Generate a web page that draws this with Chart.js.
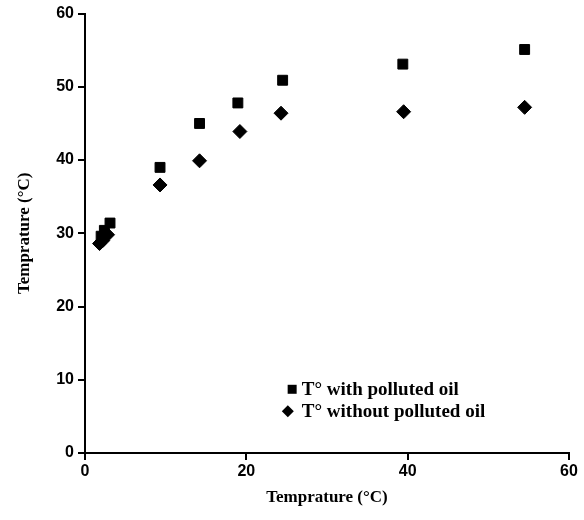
<!DOCTYPE html>
<html>
<head>
<meta charset="utf-8">
<script src="https://cdn.jsdelivr.net/npm/chart.js@4/dist/chart.umd.min.js"></script>
<style>
  html, body { margin: 0; padding: 0; background: #ffffff; }
  #wrap { width: 584px; height: 520px; position: relative; }
</style>
</head>
<body>
<div id="wrap"><canvas id="c"></canvas></div>
<script>
// ---- data ----
const seriesNames = ['T\u00b0 with polluted oil', 'T\u00b0 without polluted oil'];
const withX    = [2.0, 2.4, 3.1, 9.3, 14.2, 18.95, 24.5, 39.4, 54.5];
const withY    = [29.6, 30.4, 31.4, 39.0, 45.0, 47.8, 50.9, 53.1, 55.1];
const withoutX = [1.8, 2.2, 2.8, 9.3, 14.2, 19.2, 24.3, 39.5, 54.5];
const withoutY = [28.6, 29.0, 29.8, 36.6, 39.9, 43.9, 46.4, 46.6, 47.2];
const axisTitle = 'Temprature (\u00b0C)';
const xTicks = [0, 20, 40, 60];
const yTicks = [0, 10, 20, 30, 40, 50, 60];

const toPts = (xs, ys) => xs.map((x, i) => ({ x: x, y: ys[i] }));

const legendPlugin = {
  id: 'insideLegend',
  afterDatasetsDraw(chart) {
    const { ctx, chartArea } = chart;
    const w = chartArea.right - chartArea.left;
    const h = chartArea.bottom - chartArea.top;
    const items = [
      { text: seriesNames[0], style: 'rect', mx: 0.428, my: 0.855, tx: 0.448 },
      { text: seriesNames[1], style: 'diamond', mx: 0.419, my: 0.905, tx: 0.448 }
    ];
    ctx.save();
    ctx.fillStyle = '#000';
    ctx.font = 'bold 19px "Liberation Serif", "Times New Roman", serif';
    ctx.textBaseline = 'middle';
    ctx.textAlign = 'left';
    items.forEach(it => {
      const cx = chartArea.left + it.mx * w;
      const cy = chartArea.top + it.my * h;
      ctx.beginPath();
      if (it.style === 'rect') {
        ctx.rect(cx - 4.5, cy - 4.5, 9, 9);
      } else {
        ctx.moveTo(cx, cy - 6);
        ctx.lineTo(cx + 6, cy);
        ctx.lineTo(cx, cy + 6);
        ctx.lineTo(cx - 6, cy);
        ctx.closePath();
      }
      ctx.fill();
      ctx.fillText(it.text, chartArea.left + it.tx * w, cy + 1);
    });
    ctx.restore();
  }
};

const tickFont = { family: '"Liberation Sans", Arial, sans-serif', size: 16, weight: 'bold' };
const titleFont = { family: '"Liberation Serif", "Times New Roman", serif', size: 17, weight: 'bold' };

new Chart(document.getElementById('c'), {
  type: 'scatter',
  data: {
    datasets: [
      {
        label: seriesNames[0],
        data: toPts(withX, withY),
        pointStyle: 'rect',
        pointRadius: 7,
        backgroundColor: '#000',
        borderColor: '#000',
        borderWidth: 1
      },
      {
        label: seriesNames[1],
        data: toPts(withoutX, withoutY),
        pointStyle: 'rectRot',
        pointRadius: 7,
        backgroundColor: '#000',
        borderColor: '#000',
        borderWidth: 1
      }
    ]
  },
  options: {
    responsive: true,
    maintainAspectRatio: false,
    animation: false,
    layout: { padding: { top: 13, right: 15, bottom: 0, left: 0 } },
    plugins: {
      legend: { display: false },
      tooltip: { enabled: false }
    },
    scales: {
      x: {
        type: 'linear',
        min: 0, max: 60,
        afterBuildTicks: (s) => { s.ticks = xTicks.map(v => ({ value: v })); },
        afterFit: (s) => { s.height = 67; },
        grid: { drawOnChartArea: false, drawTicks: true, tickLength: 7, color: '#000', lineWidth: 2 },
        border: { display: true, color: '#000', width: 2 },
        ticks: { color: '#000', font: tickFont, padding: 2, maxRotation: 0 },
        title: { display: true, text: axisTitle, color: '#000', font: titleFont, padding: { top: 0, bottom: 12 } }
      },
      y: {
        type: 'linear',
        min: 0, max: 60,
        afterBuildTicks: (s) => { s.ticks = yTicks.map(v => ({ value: v })); },
        afterFit: (s) => { s.width = 85; },
        grid: { drawOnChartArea: false, drawTicks: true, tickLength: 7, color: '#000', lineWidth: 2 },
        border: { display: true, color: '#000', width: 2 },
        ticks: { color: '#000', font: tickFont, padding: 4 },
        title: { display: true, text: axisTitle, color: '#000', font: titleFont, padding: { top: 14, bottom: 0 } }
      }
    }
  },
  plugins: [legendPlugin]
});
</script>
</body>
</html>
